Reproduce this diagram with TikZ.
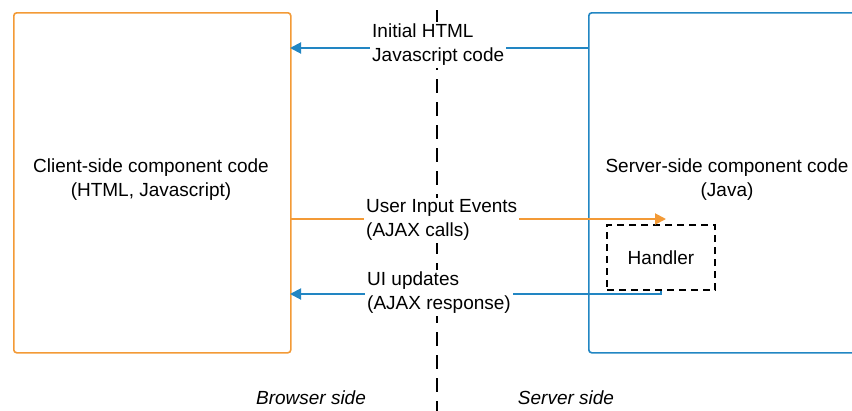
\documentclass[tikz,border=0pt]{standalone}
\usepackage{fontspec}
\setmainfont{Liberation Sans}
\usetikzlibrary{arrows.meta}
\definecolor{orng}{HTML}{F39A36}
\definecolor{blu}{HTML}{2286C3}
\begin{document}
\begin{tikzpicture}[x=1pt,y=-1pt,
  comp/.style={draw, rounded corners=3pt, line width=1.6pt, anchor=north west, inner sep=0pt},
  lbl/.style={fill=white, align=left, font=\fontsize{19}{24}\selectfont, inner sep=2pt, anchor=west},
  txt/.style={align=center, font=\fontsize{19}{24}\selectfont},
  side/.style={font=\fontsize{19}{22}\selectfont\itshape},
  flow/.style={line width=1.9pt, -{Triangle[length=11pt,width=11pt]}},
  divider/.style={line width=1.8pt, dash pattern=on 14pt off 9pt}
]
\useasboundingbox (0,0) rectangle (852,410);
\clip (0,0) rectangle (852,410);
\fill[white] (0,0) rectangle (852,410);
% divider
\coordinate (dtop) at (437,10);
\coordinate (dbot) at (437,414);
\draw[divider] (dtop) -- (dbot);
% boxes
\node[comp, draw=orng, minimum width=277pt, minimum height=340pt] (client) at (13,12) {};
\node[comp, draw=blu, minimum width=290pt, minimum height=340pt] (server) at (588,12) {};
\node[txt] (ctext) at (151,180) {Client-side component code\\(HTML, Javascript)};
\node[txt] (stext) at (727,180) {Server-side component code\\(Java)};
% handler
\node[draw, line width=1.6pt, dash pattern=on 7pt off 5pt, minimum width=108pt, minimum height=65pt, font=\fontsize{19}{22}\selectfont] (handler) at (661,257.5) {Handler};
% arrows
\coordinate (a1s) at (588,48);
\coordinate (a1e) at (290,48);
\draw[flow, blu] (a1s) -- (a1e);
\node[lbl] (l1) at (370,45) {Initial HTML\\Javascript code};
\coordinate (a2s) at (290,219);
\coordinate (a2e) at (666,219);
\draw[flow, orng] (a2s) -- (a2e);
\node[lbl] (l2) at (364,220) {User Input Events\\(AJAX calls)};
\coordinate (a3m) at (661,294);
\coordinate (a3e) at (290,294);
\draw[flow, blu] (handler.south) -- (a3m) -- (a3e);
\node[lbl] (l3) at (365,293) {UI updates\\(AJAX response)};
% side labels
\node[side] (bs) at (311,398) {Browser side};
\node[side] (ss) at (566,398) {Server side};
\end{tikzpicture}
\end{document}
